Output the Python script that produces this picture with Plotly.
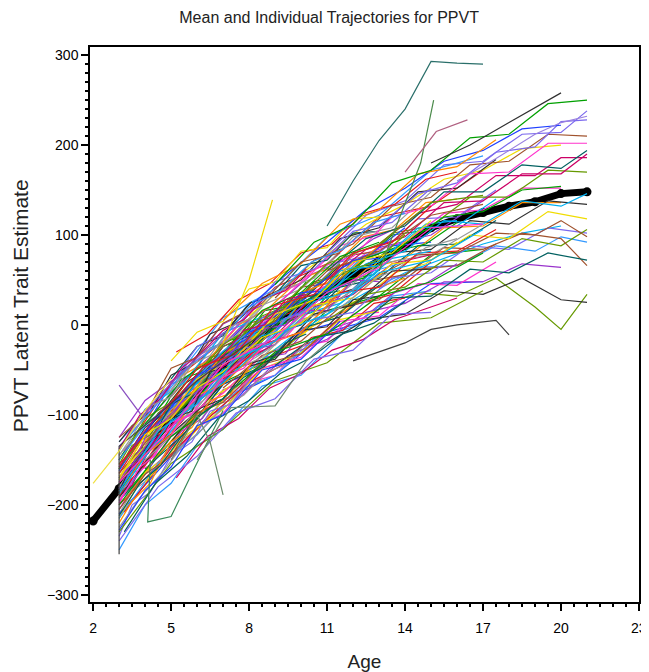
import plotly.graph_objects as go

# ---- mean trajectory ----
mean_age = [2, 3, 4, 5, 6, 7, 8, 9, 10, 11, 12, 13, 14, 15, 16, 17, 18, 19, 20, 21]
mean_score = [-218, -182, -140, -105, -75, -48, -22, 0, 20, 38, 55, 72, 88, 108, 118, 125, 132, 137, 146, 148]

# ---- measurement-age schedules ----
ages_A = [3, 3.5, 4.2, 5, 5.8, 6.5, 7.3, 8.1]
ages_B = [3, 4, 5, 6, 7, 8.5, 10, 11.5]
ages_C = [3, 4.5, 6, 7.5, 9, 10.5, 12, 13.5, 15]
ages_D = [3, 5, 7, 9, 11, 13, 15, 17]
ages_E = [5, 6, 7, 8, 9, 10, 11, 12, 13]
ages_F = [7, 8.5, 10, 11.5, 13, 14.5, 16, 17.5]
ages_G = [9, 10.5, 12, 13.5, 15, 16.5, 18, 19.5, 21]
ages_H = [11, 12.5, 14, 15.5, 17, 18.5, 20, 21]
ages_K = [13, 14.5, 16, 17.5, 19, 20, 21]
ages_L = [3, 4, 5.5, 7, 8.5]
ages_M = [4, 5.5, 7, 8.5, 10, 11.5, 13]
ages_N = [3, 3.8, 4.6, 5.4, 6.2, 7, 7.8, 8.6, 9.4, 10.2]
ages_P = [3.2, 4.4, 5.6, 6.8, 8, 9.2, 10.4, 11.6, 12.8, 14]
ages_Q = [5.2, 6.4, 7.6, 8.8, 10, 11.2, 12.4, 13.6, 14.8, 16]
ages_R = [8, 9.5, 11, 12.5, 14, 15.5, 17, 18.5, 20]

# ---- individual scores per schedule ----
scores_A = [
    [-150, -128, -104, -66, -56, -26, -16, 8],
    [-210, -185, -170, -136, -120, -90, -84, -55],
    [-175, -146, -132, -92, -76, -50, -36, -16],
    [-190, -178, -136, -122, -84, -74, -48, -34],
    [-160, -134, -122, -86, -66, -36, -30, 2],
    [-235, -200, -186, -146, -130, -96, -88, -58],
    [-130, -112, -96, -56, -44, -10, 0, 26],
    [-200, -165, -156, -108, -100, -66, -50, -32],
    [-168, -156, -114, -104, -66, -52, -30, -16],
    [-185, -154, -130, -104, -96, -52, -46, -24],
    [-145, -124, -90, -80, -44, -34, -2, 8],
    [-220, -196, -176, -130, -114, -84, -76, -42],
]
scores_B = [
    [-165, -120, -96, -54, -40, 2, 18, 56],
    [-195, -166, -124, -104, -66, -48, -8, 4],
    [-140, -94, -72, -34, -22, 22, 40, 80],
    [-250, -200, -176, -134, -116, -68, -56, -12],
    [-180, -146, -104, -76, -46, -26, 16, 32],
    [-155, -104, -86, -48, -34, 10, 28, 68],
    [-205, -166, -146, -98, -86, -44, -32, 8],
    [-170, -140, -88, -74, -34, -16, 30, 38],
    [-188, -144, -122, -78, -66, -24, -8, 36],
    [-125, -100, -48, -36, 2, 24, 70, 80],
    [-228, -184, -158, -112, -100, -50, -38, 4],
    [-172, -122, -104, -70, -52, -14, 2, 38],
]
scores_C = [
    [-160, -98, -64, -14, 4, 48, 60, 100, 106],
    [-200, -156, -98, -76, -34, -18, 22, 34, 70],
    [-182, -112, -84, -36, -8, 34, 48, 88, 92],
    [-145, -94, -34, -12, 36, 52, 98, 108, 148],
    [-215, -154, -122, -74, -56, -16, -2, 32, 38],
    [-175, -124, -86, -42, -22, 20, 34, 68, 78],
    [-135, -86, -24, -2, 48, 62, 104, 114, 152],
    [-192, -134, -96, -48, -34, 12, 22, 60, 62],
    [-168, -118, -60, -36, 12, 28, 70, 80, 116],
    [-240, -180, -146, -98, -82, -38, -28, 12, 14],
    [-155, -106, -48, -32, 22, 34, 80, 92, 132],
    [-185, -118, -88, -38, -18, 26, 38, 74, 82],
]
scores_D = [
    [-170, -90, -46, 12, 38, 86, 100, 138],
    [-195, -130, -64, -36, 16, 32, 78, 84],
    [-150, -64, -18, 42, 68, 120, 132, 172],
    [-210, -146, -84, -56, -8, 8, 46, 48],
    [-180, -94, -52, 2, 24, 68, 78, 112],
    [-130, -66, 8, 40, 98, 122, 172, 188],
    [-230, -154, -116, -62, -42, 2, 8, 38],
    [-165, -98, -24, 4, 60, 82, 122, 134],
    [-188, -106, -64, -10, 12, 58, 72, 106],
    [-158, -88, -22, 14, 68, 90, 136, 144],
    [-200, -124, -82, -30, -10, 32, 48, 80],
    [-175, -114, -44, -14, 36, 64, 108, 112],
]
scores_E = [
    [-80, -46, -34, 2, 9, 42, 46, 78, 82],
    [-130, -94, -82, -46, -38, -6, -2, 28, 32],
    [-60, -24, -12, 24, 34, 66, 72, 102, 104],
    [-150, -114, -98, -64, -56, -24, -18, 12, 14],
    [-100, -64, -52, -16, -8, 26, 32, 62, 66],
    [-40, -8, 4, 40, 48, 82, 86, 118, 120],
    [-115, -82, -62, -28, -22, 16, 16, 50, 48],
    [-90, -56, -42, -8, 2, 36, 38, 72, 74],
]
scores_F = [
    [-30, 8, 28, 70, 80, 118, 120, 150],
    [-70, -34, -18, 20, 28, 62, 66, 90],
    [-10, 30, 50, 96, 108, 148, 152, 184],
    [-55, -14, 0, 42, 52, 88, 90, 116],
    [-85, -48, -36, 4, 10, 46, 44, 70],
    [-40, -2, 14, 60, 70, 108, 110, 140],
    [5, 46, 68, 112, 128, 168, 176, 206],
    [-60, -22, -8, 36, 42, 80, 82, 106],
]
scores_G = [
    [10, 46, 60, 102, 110, 142, 142, 172, 170],
    [-30, 6, 14, 52, 58, 88, 84, 108, 102],
    [30, 72, 90, 132, 142, 178, 182, 212, 210],
    [-5, 26, 40, 80, 84, 116, 112, 138, 134],
    [-45, -14, -6, 30, 32, 62, 58, 80, 72],
    [20, 62, 76, 120, 132, 168, 170, 202, 202],
    [-15, 22, 30, 68, 72, 100, 96, 126, 118],
    [45, 92, 112, 158, 172, 208, 212, 246, 250],
]
scores_H = [
    [50, 84, 98, 136, 138, 168, 168, 190],
    [5, 34, 42, 72, 70, 96, 88, 106],
    [80, 122, 138, 178, 182, 212, 214, 238],
    [20, 48, 56, 86, 84, 102, 96, 66],
    [-20, 6, 12, 38, 34, 52, 28, 25],
    [60, 96, 110, 148, 148, 178, 174, 194],
    [35, 68, 82, 116, 112, 138, 132, 146],
]
scores_K = [
    [40, 64, 66, 88, 82, 98, 92],
    [90, 124, 134, 166, 166, 186, 186],
    [20, 36, 32, 52, 20, -5, 34],
    [110, 146, 158, 192, 198, 226, 228],
    [55, 78, 80, 102, 100, 116, 98],
]
scores_L = [
    [-160, -114, -82, -24, -6],
    [-195, -156, -104, -76, -34],
    [-140, -94, -64, -9, 9],
    [-215, -164, -132, -84, -61],
    [-175, -136, -79, -58, -14],
    [-125, -84, -52, 1, 22],
    [-185, -156, -94, -66, -24],
    [-150, -112, -74, -29, 2],
]
scores_M = [
    [-120, -66, -36, 8, 26, 66, 79],
    [-160, -121, -66, -46, -4, 9, 44],
    [-100, -49, -18, 28, 46, 88, 102],
    [-145, -104, -49, -31, 11, 24, 61],
    [-175, -124, -94, -49, -31, 6, 16],
    [-130, -86, -32, -8, 36, 52, 88],
    [-110, -59, -31, 16, 36, 76, 92],
    [-150, -111, -56, -36, 6, 19, 54],
]
scores_N = [
    [-170, -132, -120, -82, -68, -36, -28, 0, 4, 32],
    [-205, -170, -150, -118, -104, -72, -64, -36, -32, -4],
    [-150, -114, -98, -60, -52, -18, -14, 16, 20, 48],
    [-190, -160, -128, -108, -80, -62, -40, -28, -8, 6],
    [-162, -126, -106, -78, -58, -30, -18, 2, 18, 30],
    [-225, -192, -166, -136, -116, -92, -78, -54, -44, -20],
    [-138, -100, -82, -48, -30, -6, 6, 30, 38, 62],
    [-182, -150, -116, -100, -66, -56, -26, -20, 8, 14],
    [-198, -158, -140, -106, -90, -58, -48, -22, -14, 12],
    [-158, -124, -96, -76, -48, -34, -6, 0, 28, 34],
    [-172, -144, -112, -86, -70, -40, -34, -4, 0, 26],
    [-212, -176, -156, -124, -98, -82, -58, -46, -20, -10],
]
scores_P = [
    [-164, -110, -84, -36, -22, 16, 26, 62, 66, 102],
    [-196, -148, -110, -80, -50, -28, -2, 14, 40, 52],
    [-140, -96, -58, -28, 6, 26, 56, 72, 96, 112],
    [-178, -128, -96, -54, -34, 4, 14, 50, 56, 90],
    [-208, -162, -126, -94, -64, -46, -14, -6, 24, 30],
    [-152, -104, -70, -34, -8, 20, 40, 64, 82, 108],
    [-186, -140, -96, -66, -30, -14, 18, 30, 60, 70],
    [-168, -118, -86, -42, -20, 12, 26, 58, 70, 100],
    [-230, -176, -146, -104, -84, -54, -36, -10, 2, 26],
    [-130, -90, -48, -22, 20, 38, 70, 84, 114, 124],
]
scores_Q = [
    [-80, -58, -20, -4, 32, 44, 76, 84, 112, 116],
    [-120, -84, -62, -30, -12, 16, 30, 58, 68, 92],
    [-60, -40, 0, 20, 52, 64, 98, 106, 136, 140],
    [-140, -102, -82, -48, -32, -4, 8, 36, 46, 68],
    [-100, -62, -44, -6, 10, 42, 52, 82, 90, 114],
    [-30, -10, 28, 46, 80, 90, 124, 134, 162, 170],
    [-110, -80, -48, -26, 4, 22, 48, 60, 86, 96],
    [-170, -124, -104, -70, -54, -28, -16, 6, 18, 30],
]
scores_R = [
    [-10, 24, 44, 80, 92, 124, 128, 152, 152],
    [-50, -16, 12, 36, 58, 74, 90, 102, 110],
    [10, 46, 78, 112, 134, 162, 172, 196, 200],
    [-30, 8, 24, 62, 74, 108, 110, 136, 136],
    [-70, -34, -16, 14, 24, 48, 48, 68, 64],
    [-20, 16, 40, 74, 90, 120, 126, 150, 154],
    [20, 58, 92, 128, 152, 182, 194, 218, 222],
]

# ---- individually read outlying trajectories ----
top_age = [11, 12, 13, 14, 15, 16, 17]
top_score = [110, 160, 205, 240, 293, 291, 290]
spike_age = [13, 14.6, 15.1]
spike_score = [60, 180, 250]
pink_age = [14, 15.2, 16.4]
pink_score = [170, 215, 228]
dotted_age = [15, 16.5, 18, 20]
dotted_score = [180, 200, 225, 258]
lav_age = [16, 17.5, 19, 20, 21]
lav_score = [160, 185, 212, 225, 232]
dip_age = [5, 6, 6.5, 7]
dip_score = [-150, -100, -130, -189]
vee_age = [4.2, 4.1, 5, 5.9, 7]
vee_score = [-150, -219, -213, -159, -95]
vert_age = [3, 3, 4.5, 6, 7.5, 9]
vert_score = [-255, -135, -100, -62, -30, 0]
purp_age = [3, 3.9, 4.5, 5.5, 7]
purp_score = [-67, -102, -80, -50, -10]
yel_age = [2, 3, 4, 5]
yel_score = [-176, -140, -95, -60]
yspike_age = [7, 8, 8.9]
yspike_score = [-20, 50, 139]
low_age = [12, 13, 14, 15, 16, 17.5, 18]
low_score = [-40, -30, -20, -5, 0, 5, -11]
flat_age = [6, 7.3, 9, 10.2, 11]
flat_score = [-150, -92, -90, -40, -20]

x_ticks = [2, 5, 8, 11, 14, 17, 20, 23]
x_tick_text = ["2", "5", "8", "11", "14", "17", "20", ""]
x_edge_tick = 23
y_ticks = [-300, -200, -100, 0, 100, 200, 300]
y_tick_text = ["\u2212300", "\u2212200", "\u2212100", "0", "100", "200", "300"]

palette = ["#1f3fff", "#e41a1c", "#00a000", "#9933cc", "#ff8c00", "#f0dc00",
           "#00b0f0", "#ff33cc", "#006060", "#303030", "#a0522d", "#7b68ee",
           "#669900", "#cc0066", "#3399ff", "#999999"]

fig = go.Figure()

fig.add_trace(go.Scatter(x=mean_age, y=mean_score, mode="lines+markers",
                         line=dict(color="black", width=7),
                         marker=dict(color="black", size=9),
                         hoverinfo="skip", showlegend=False))

groups = [(ages_A, scores_A), (ages_B, scores_B), (ages_C, scores_C), (ages_D, scores_D),
          (ages_N, scores_N), (ages_P, scores_P), (ages_Q, scores_Q), (ages_R, scores_R),
          (ages_L, scores_L), (ages_M, scores_M), (ages_E, scores_E), (ages_F, scores_F),
          (ages_G, scores_G), (ages_H, scores_H), (ages_K, scores_K)]

series = []
maxlen = max(len(s) for _, s in groups)
for i in range(maxlen):
    for ages, scores in groups:
        if i < len(scores):
            series.append((ages, scores[i]))

k = 0
for ages, sc in series:
    fig.add_trace(go.Scatter(x=ages, y=sc, mode="lines",
                             line=dict(color=palette[k % len(palette)], width=1.2),
                             hoverinfo="skip", showlegend=False))
    k += 1

specials = [(top_age, top_score, "#2a6f6a"), (spike_age, spike_score, "#4a8a4a"),
            (pink_age, pink_score, "#b06080"), (dotted_age, dotted_score, "#303030"),
            (lav_age, lav_score, "#9a80e0"), (dip_age, dip_score, "#6a8a6a"),
            (vee_age, vee_score, "#3a8a5a"), (vert_age, vert_score, "#404040"),
            (purp_age, purp_score, "#8a50c0"), (yel_age, yel_score, "#f0e040"),
            (yspike_age, yspike_score, "#f0d800"), (low_age, low_score, "#404040"),
            (flat_age, flat_score, "#708a70")]
for xa, ya, c in specials:
    fig.add_trace(go.Scatter(x=xa, y=ya, mode="lines", line=dict(color=c, width=1.2),
                             hoverinfo="skip", showlegend=False))

# The page body adds an 8px offset, so the figure is sized 641x664 to fill the window.
font_family = "Liberation Sans, Arial, sans-serif"
fig.update_layout(
    width=641, height=664,
    margin=dict(l=82, r=8, t=39, b=70),
    paper_bgcolor="white", plot_bgcolor="white",
    font=dict(family=font_family, color="black", size=14),
    title=dict(text="Mean and Individual Trajectories for PPVT", x=0.501, xanchor="center",
               y=0.995, yanchor="top", font=dict(size=16, color="#222")),
    showlegend=False,
    annotations=[
        dict(text="PPVT Latent Trait Estimate", textangle=-90,
             xref="paper", yref="paper", x=(12 - 82) / 551, y=(594 - 298) / 555,
             xanchor="center", yanchor="middle", showarrow=False,
             font=dict(size=21, color="#222")),
        dict(text=str(x_edge_tick), xref="x", yref="paper", x=x_edge_tick, y=0,
             xanchor="center", yanchor="top", yshift=-16, showarrow=False,
             font=dict(size=14, color="black")),
    ],
)
fig.update_xaxes(range=[1.88, 23.0], tickmode="array", tickvals=x_ticks, ticktext=x_tick_text,
                 ticks="outside", ticklen=7, tickwidth=1.5, tickcolor="black",
                 ticklabelstandoff=5,
                 minor=dict(dtick=0.5, tick0=2, ticks="outside", ticklen=3, tickcolor="black"),
                 showline=True, linecolor="black", linewidth=1.5, mirror=True,
                 showgrid=False, zeroline=False, automargin=False,
                 title=dict(text="Age", font=dict(size=19, color="#222"), standoff=20),
                 tickfont=dict(size=14))
fig.update_yaxes(range=[-308, 309], tickmode="array", tickvals=y_ticks,
                 ticktext=y_tick_text,
                 ticks="outside", ticklen=7, tickwidth=1.5, tickcolor="black",
                 minor=dict(dtick=10, tick0=0, ticks="outside", ticklen=3, tickcolor="black"),
                 showline=True, linecolor="black", linewidth=1.5, mirror=True,
                 showgrid=False, zeroline=False,
                 tickfont=dict(size=14))

fig.write_html("out.html")
